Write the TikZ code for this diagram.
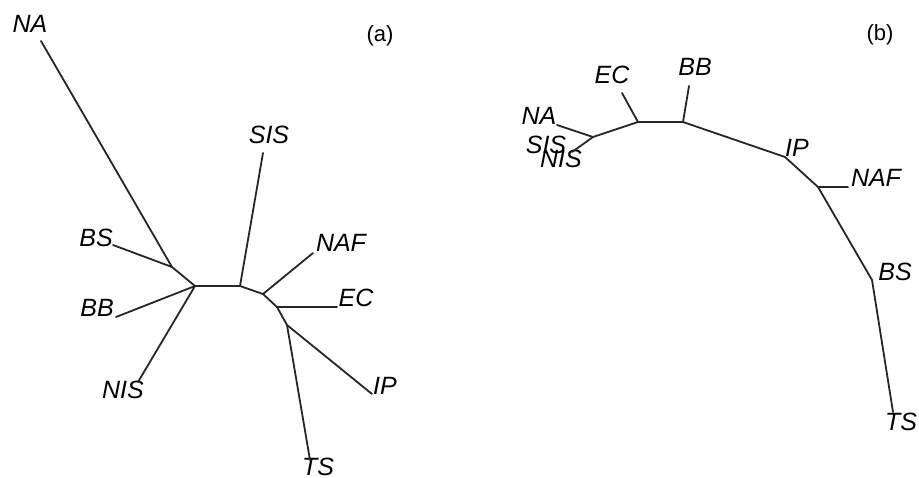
\documentclass[tikz,border=0pt]{standalone}
\usepackage{fontspec}
\setmainfont{Liberation Sans}

\begin{document}
\begin{tikzpicture}
[x=0.5pt,y=-0.5pt,
 every node/.style={inner sep=0mm,outer sep=0mm,font=\fontsize{12.5}{14}\selectfont\itshape},
 panel/.style={font=\fontsize{11}{13}\selectfont},
 branch/.style={line width=0.9pt,black!85,line cap=round}]
\useasboundingbox (0,0) rectangle (919,477);

% (a)
\coordinate (a1) at (172,267);
\coordinate (a2) at (195,286);
\coordinate (a3) at (240,286);
\coordinate (a4) at (263,294);
\coordinate (a5) at (277,307);
\coordinate (a6) at (287,325);
\coordinate (aNAt)  at (41,41);
\coordinate (aBSt)  at (113,245);
\coordinate (aBBt)  at (116,317);
\coordinate (aNISt) at (138,382);
\coordinate (aSISt) at (263,153);
\coordinate (aNAFt) at (313,253);
\coordinate (aECt)  at (337,307);
\coordinate (aIPt)  at (372,394);
\coordinate (aTSt)  at (310,460);

\node (aNA)  at (30,24)   {NA};
\node (aBS)  at (96,238)  {BS};
\node (aBB)  at (97,308)  {BB};
\node (aNIS) at (123,390) {NIS};
\node (aSIS) at (269,135) {SIS};
\node (aNAF) at (341,243) {NAF};
\node (aEC)  at (356,298) {EC};
\node (aIP)  at (385,386) {IP};
\node (aTS)  at (318,467) {TS};
\node[panel] (aLab) at (380,36) {(a)};

\path[branch] (a1) edge (a2)
              (a2) edge (a3)
              (a3) edge (a4)
              (a4) edge (a5)
              (a5) edge (a6);
\path[branch] (a1) edge (aNAt)
              (a1) edge (aBSt)
              (a2) edge (aBBt)
              (a2) edge (aNISt)
              (a3) edge (aSISt)
              (a4) edge (aNAFt)
              (a5) edge (aECt)
              (a6) edge (aIPt)
              (a6) edge (aTSt);

% (b)
\coordinate (b1) at (593,137);
\coordinate (b2) at (638,122);
\coordinate (b3) at (683,122);
\coordinate (b4) at (785,157);
\coordinate (b5) at (818,187);
\coordinate (b6) at (872,280);
\coordinate (bNAt)  at (557,125);
\coordinate (bNISt) at (572,152);
\coordinate (bECt)  at (622,93);
\coordinate (bBBt)  at (689,86);
\coordinate (bNAFt) at (848,187);
\coordinate (bTSt)  at (893,412);

\node (bNA)  at (539,116) {NA};
\node (bSIS) at (546,145) {SIS};
\node (bNIS) at (561,159) {NIS};
\node (bEC)  at (612,75)  {EC};
\node (bBB)  at (695,67)  {BB};
\node (bIP)  at (797,148) {IP};
\node (bNAF) at (876,178) {NAF};
\node (bBS)  at (895,272) {BS};
\node (bTS)  at (901,422) {TS};
\node[panel] (bLab) at (880,35) {(b)};

\path[branch] (b1) edge (b2)
              (b2) edge (b3)
              (b3) edge (b4)
              (b4) edge (b5)
              (b5) edge (b6)
              (b6) edge (bTSt);
\path[branch] (b1) edge (bNAt)
              (b1) edge (bNISt)
              (b2) edge (bECt)
              (b3) edge (bBBt)
              (b5) edge (bNAFt);
\end{tikzpicture}
\end{document}
